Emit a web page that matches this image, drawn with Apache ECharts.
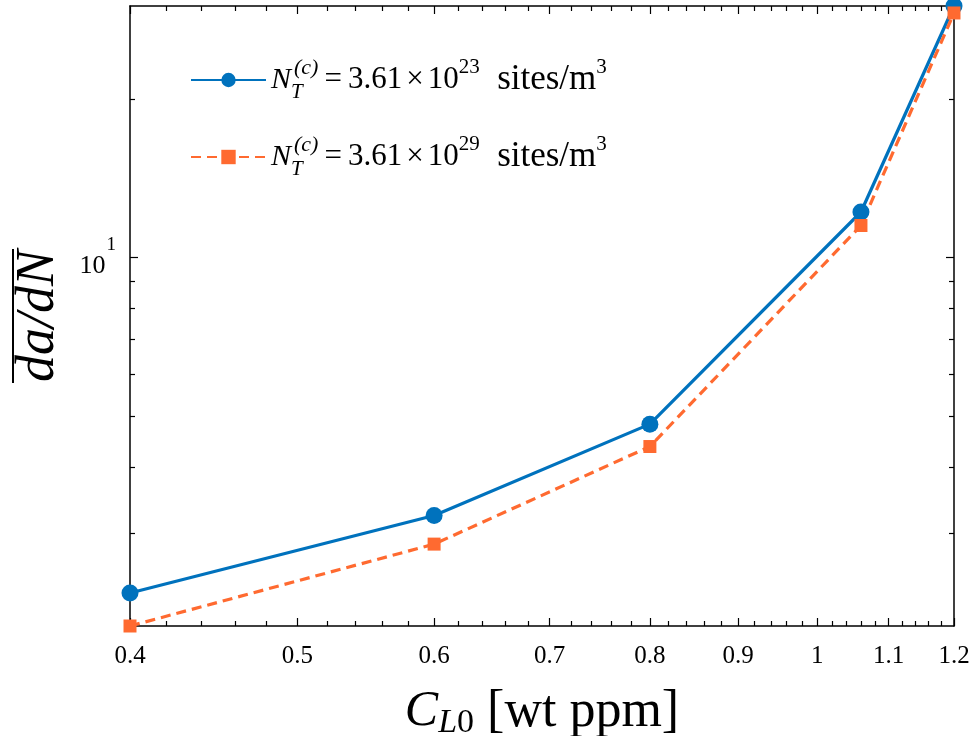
<!DOCTYPE html>
<html><head><meta charset="utf-8">
<script src="https://cdn.jsdelivr.net/npm/echarts@6/dist/echarts.min.js"></script>
<style>html,body{margin:0;padding:0;background:#fff}#c{width:977px;height:736px}</style>
</head><body><div id="c"></div>
<script>
// ---- data ----
const xValues = [0.4, 0.6, 0.8, 1.06, 1.2];
const seriesNames = ['N_T^(c)=3.61×10^23 sites/m^3', 'N_T^(c)=3.61×10^29 sites/m^3'];
const seriesCoef = ['3.61', '3.61'];
const seriesExponents = ['23', '29'];
const blueValues = [2.31, 3.24, 4.83, 12.2, 30.0];
const orangeValues = [2.0, 2.86, 4.38, 11.5, 29.1];
const xRange = [0.4, 1.2];
const yRange = [2, 30];
const xTickLabels = [0.4, 0.5, 0.6, 0.7, 0.8, 0.9, 1, 1.1, 1.2];
const xMinorTicks = [0.42, 0.44, 0.46, 0.48, 0.52, 0.54, 0.56, 0.58, 0.62, 0.64, 0.66, 0.68,
  0.72, 0.74, 0.76, 0.78, 0.82, 0.84, 0.86, 0.88, 0.92, 0.94, 0.96, 0.98,
  1.02, 1.04, 1.06, 1.08, 1.12, 1.14, 1.16, 1.18];
const yTickLabels = [10];
const yMinorTicks = [3, 4, 5, 6, 7, 8, 9, 20];

// ---- styling ----
const FONT = '"Liberation Serif", "DejaVu Serif", serif';
const BLUE = '#0072BD';
const ORANGE = '#FF6A30';
const lg = Math.log10;

const chart = echarts.init(document.getElementById('c'), null, {renderer: 'canvas'});

function decoAxis(dim, position, ticks, len, showLabel, showLine) {
  const range = dim === 'x' ? xRange : yRange;
  const ax = {
    type: 'value', position: position,
    min: lg(range[0]), max: lg(range[1]),
    axisLine: {show: showLine, onZero: false, lineStyle: {color: '#000', width: 1.5}},
    splitLine: {show: false},
    axisTick: {show: true, inside: true, length: len, customValues: ticks.map(lg),
      lineStyle: {color: '#000', width: 1.2}},
    axisLabel: {show: showLabel, customValues: ticks.map(lg), color: '#000', fontFamily: FONT}
  };
  if (dim === 'x') {
    ax.axisLabel.fontSize = 25;
    ax.axisLabel.margin = 18;
    ax.axisLabel.formatter = v => String(Math.round(Math.pow(10, v) * 100) / 100);
  } else {
    ax.axisLabel.margin = 14;
    ax.axisLabel.formatter = v => '{b|10}{s|' + Math.round(v) + '}';
    ax.axisLabel.rich = {
      b: {fontFamily: FONT, fontSize: 26, lineHeight: 44, verticalAlign: 'bottom', color: '#000'},
      s: {fontFamily: FONT, fontSize: 19, lineHeight: 19, verticalAlign: 'top', padding: [0, 0, 0, 1], color: '#000'}
    };
  }
  return ax;
}

const legendRich = {
  n: {fontFamily: FONT, fontStyle: 'italic', fontSize: 30, lineHeight: 46, color: '#000'},
  sub: {fontFamily: FONT, fontStyle: 'italic', fontSize: 21, lineHeight: 21, verticalAlign: 'bottom', width: 0, color: '#000'},
  sup: {fontFamily: FONT, fontStyle: 'italic', fontSize: 22, lineHeight: 22, verticalAlign: 'top', padding: [0, 0, 0, 3], color: '#000'},
  eq: {fontFamily: FONT, fontSize: 31, lineHeight: 46, padding: [0, 6], color: '#000'},
  m: {fontFamily: FONT, fontSize: 31, lineHeight: 46, color: '#000'},
  x: {fontFamily: FONT, fontSize: 31, lineHeight: 46, padding: [0, 4], color: '#000'},
  st: {fontFamily: FONT, fontSize: 35, lineHeight: 46, color: '#000'},
  exp: {fontFamily: FONT, fontSize: 21, lineHeight: 21, verticalAlign: 'top', color: '#000'}
};

const option = {
  animation: false,
  backgroundColor: '#fff',
  grid: {left: 130, right: 23, top: 6, bottom: 110, containLabel: false, outerBoundsMode: 'none'},
  legend: {
    orient: 'vertical', left: 190, top: 57, padding: 0, itemWidth: 75, itemHeight: 18, itemGap: 31,
    data: seriesNames,
    formatter: name => {
      const i = seriesNames.indexOf(name);
      return '{n|N}{sub|T}{sup|(c)}{eq|=}{m|' + seriesCoef[i] + '}{x|×}{m|10}{exp|' + seriesExponents[i] +
        '}{st|  sites/m}{exp|3}';
    },
    textStyle: {fontFamily: FONT, fontSize: 30, color: '#000', rich: legendRich}
  },
  xAxis: [
    {
      type: 'log', position: 'bottom', min: xRange[0], max: xRange[1],
      axisLine: {show: true, onZero: false, lineStyle: {color: '#000', width: 1.5}},
      axisTick: {show: false}, axisLabel: {show: false}, splitLine: {show: false},
      name: '{i|C}{si|L}{sr|0}{r| [wt ppm]}', nameLocation: 'middle', nameGap: 58,
      nameTextStyle: {
        rich: {
          i: {fontFamily: FONT, fontStyle: 'italic', fontSize: 50, lineHeight: 56, color: '#000'},
          si: {fontFamily: FONT, fontStyle: 'italic', fontSize: 34, lineHeight: 34, verticalAlign: 'bottom', color: '#000'},
          sr: {fontFamily: FONT, fontSize: 34, lineHeight: 34, verticalAlign: 'bottom', color: '#000'},
          r: {fontFamily: FONT, fontSize: 52, lineHeight: 56, color: '#000'}
        }
      }
    },
    decoAxis('x', 'bottom', xTickLabels, 8, true, false),
    decoAxis('x', 'bottom', xMinorTicks, 5, false, false),
    decoAxis('x', 'top', xTickLabels, 8, false, true),
    decoAxis('x', 'top', xMinorTicks, 5, false, false)
  ],
  yAxis: [
    {
      type: 'log', position: 'left', min: yRange[0], max: yRange[1],
      axisLine: {show: true, onZero: false, lineStyle: {color: '#000', width: 1.5}},
      axisTick: {show: false}, axisLabel: {show: false}, splitLine: {show: false},
      name: '{bar| }\n{t|d}{t|a}{u|/}{t|d}{t|N}', nameLocation: 'middle', nameGap: 67, nameRotate: 90,
      nameTextStyle: {
        align: 'center',
        rich: {
          bar: {fontSize: 2, lineHeight: 4, width: 134, backgroundColor: '#000', color: '#000'},
          t: {fontFamily: FONT, fontStyle: 'italic', fontSize: 54, lineHeight: 48, color: '#000'},
          u: {fontFamily: FONT, fontStyle: 'italic', fontSize: 54, lineHeight: 48, color: '#000'}
        }
      }
    },
    decoAxis('y', 'left', yTickLabels, 8, true, false),
    decoAxis('y', 'left', yMinorTicks, 5, false, false),
    decoAxis('y', 'right', yTickLabels, 8, false, true),
    decoAxis('y', 'right', yMinorTicks, 5, false, false)
  ],
  series: [
    {
      name: seriesNames[0], type: 'line', xAxisIndex: 0, yAxisIndex: 0,
      data: xValues.map((x, i) => [x, blueValues[i]]),
      symbol: 'circle', symbolSize: 17, clip: false,
      lineStyle: {color: BLUE, width: 3.2}, itemStyle: {color: BLUE}
    },
    {
      name: seriesNames[1], type: 'line', xAxisIndex: 0, yAxisIndex: 0,
      data: xValues.map((x, i) => [x, orangeValues[i]]),
      symbol: 'rect', symbolSize: 13, clip: false,
      lineStyle: {color: ORANGE, width: 3.2, type: [10, 6]}, itemStyle: {color: ORANGE}
    }
  ]
};
chart.setOption(option);
</script></body></html>
